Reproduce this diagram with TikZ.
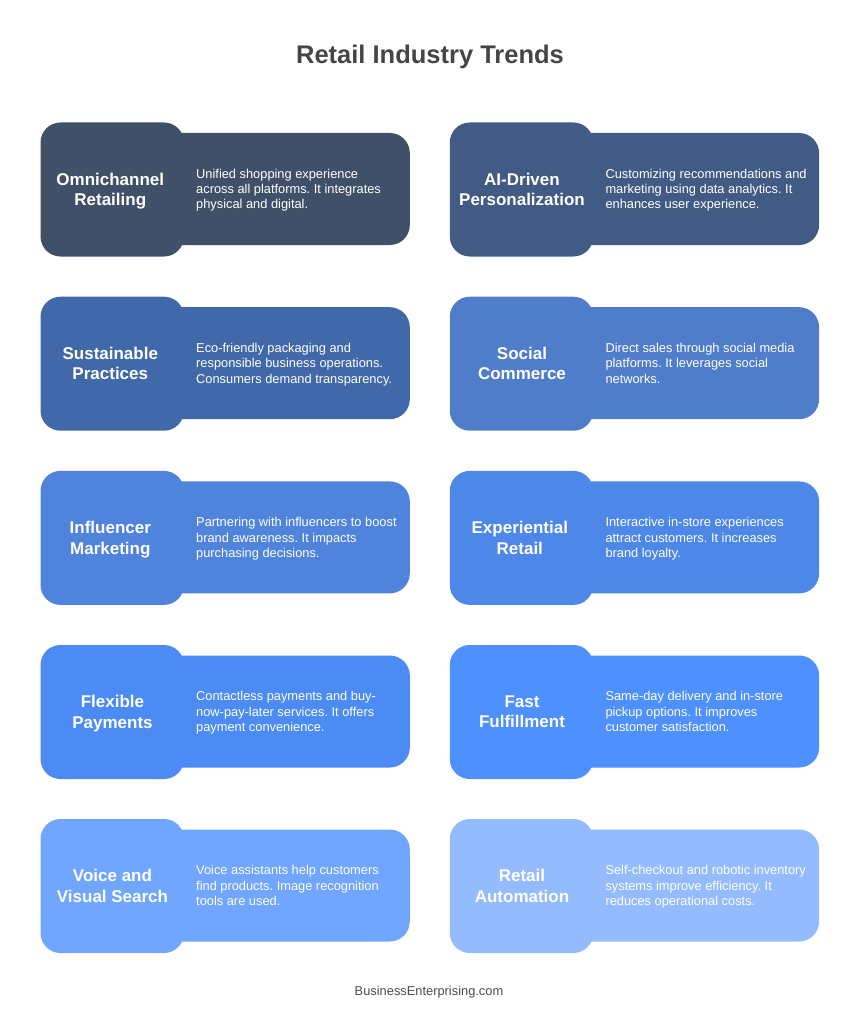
\documentclass[tikz,border=0pt]{standalone}
\usepackage{fontspec}
\setmainfont{Liberation Sans}
\frenchspacing
\definecolor{c1}{HTML}{415069}
\definecolor{c2}{HTML}{415B85}
\definecolor{c3}{HTML}{4169A9}
\definecolor{c4}{HTML}{507DC9}
\definecolor{c5}{HTML}{5083DB}
\definecolor{c6}{HTML}{4D87E7}
\definecolor{c7}{HTML}{4B8BF3}
\definecolor{c8}{HTML}{4D90FE}
\definecolor{c9}{HTML}{70A6FE}
\definecolor{c10}{HTML}{94BBFE}
\newcommand{\vA}{\vphantom{Ag}}
\tikzset{
 x=1pt,y=-1pt,
 headbox/.style={rounded corners=20pt,minimum width=143.5pt,minimum height=134pt,inner sep=0pt,anchor=north west,line width=0pt},
 bodybox/.style={rounded corners=20pt,minimum width=269pt,minimum height=112pt,inner sep=0pt,anchor=north west,line width=0pt},
 headtext/.style={text=white,font=\fontsize{17}{20.5}\selectfont\bfseries,align=center,inner sep=0pt,anchor=center},
 bodytext/.style={text=white,font=\fontsize{12.83}{15.3}\selectfont,align=left,inner sep=0pt,anchor=west},
 titletext/.style={text=black!73,font=\fontsize{25.5}{30}\selectfont\bfseries,inner sep=0pt},
 foottext/.style={text=black!70,font=\fontsize{12.85}{15}\selectfont,inner sep=0pt}
}
\newcommand{\card}[9]{%
 \node[bodybox,fill=#3] (b#1) at (#2+100.3,#9+10.5) {};
 \node[headbox,fill=#3] (h#1) at (#2,#9) {};
 \node[headtext] (ht#1) at (#4,#9+68.6) {\vA#5\\\vA#6};
 \node[bodytext] (bt#1) at (#2+155.5,#9+67.8) {\vA#7\\\vA#8};
}
\begin{document}
\begin{tikzpicture}
\useasboundingbox (0,0) rectangle (860,1024);
\fill[white] (0,0) rectangle (860,1024);
\node[titletext] (title) at (430,57) {Retail Industry Trends};
\card{a}{40.5}{c1}{110.3}{Omnichannel}{Retailing}{Unified shopping experience\\across all platforms. It integrates}{physical and digital.}{122.5}
\card{b}{449.8}{c2}{522}{AI-Driven}{Personalization}{Customizing recommendations and\\marketing using data analytics. It}{enhances user experience.}{122.5}
\card{c}{40.5}{c3}{110.3}{Sustainable}{Practices}{Eco-friendly packaging and\\responsible business operations.}{Consumers demand transparency.}{296.7}
\card{d}{449.8}{c4}{522}{Social}{Commerce}{Direct sales through social media\\platforms. It leverages social}{networks.}{296.7}
\card{e}{40.5}{c5}{110.3}{Influencer}{Marketing}{Partnering with influencers to boost\\brand awareness. It impacts}{purchasing decisions.}{470.9}
\card{f}{449.8}{c6}{519.8}{Experiential}{Retail}{Interactive in-store experiences\\attract customers. It increases}{brand loyalty.}{470.9}
\card{g}{40.5}{c7}{112.5}{Flexible}{Payments}{Contactless payments and buy-\\now-pay-later services. It offers}{payment convenience.}{645}
\card{h}{449.8}{c8}{522}{Fast}{Fulfillment}{Same-day delivery and in-store\\pickup options. It improves}{customer satisfaction.}{645}
\card{i}{40.5}{c9}{112.5}{Voice and}{Visual Search}{Voice assistants help customers\\find products. Image recognition}{tools are used.}{819}
\card{j}{449.8}{c10}{522}{Retail}{Automation}{Self-checkout and robotic inventory\\systems improve efficiency. It}{reduces operational costs.}{819}
\node[foottext] (foot) at (429,992) {BusinessEnterprising.com};
\end{tikzpicture}
\end{document}
